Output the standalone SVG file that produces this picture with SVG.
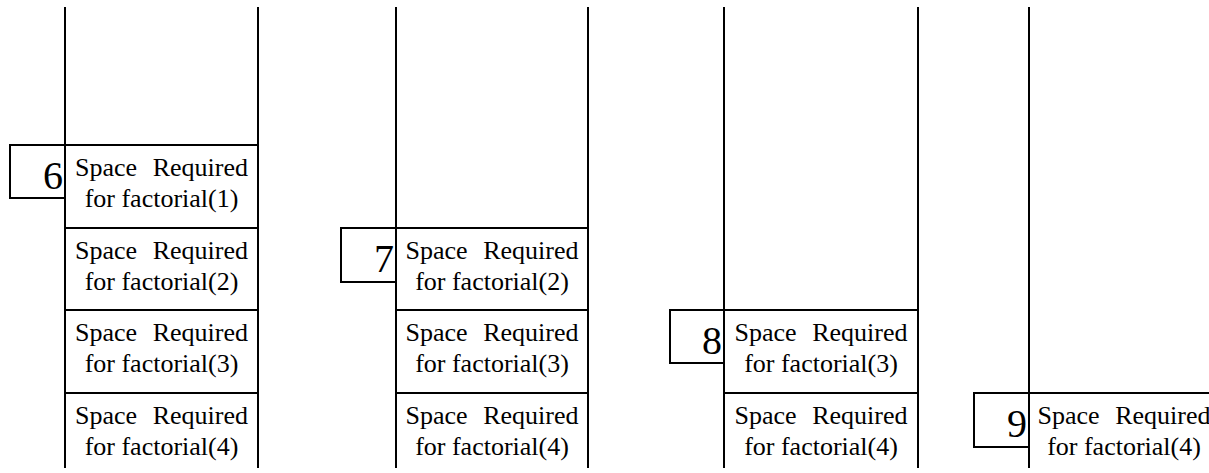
<svg xmlns="http://www.w3.org/2000/svg" width="1209" height="473" viewBox="0 0 1209 473">
<style>
.ln{stroke:#000;stroke-width:2;fill:none}
.bx{stroke:#000;stroke-width:2;fill:#fff}
.t{font-family:"Liberation Serif","Times New Roman",serif;font-size:26px;fill:#000;text-anchor:middle}
.t1{word-spacing:9px}
.n{font-family:"Liberation Serif","Times New Roman",serif;font-size:40px;fill:#000;text-anchor:end}
</style>
<rect width="1209" height="473" fill="#fff"/>
<g id="stack1">
<line class="ln" x1="65" y1="7" x2="65" y2="468"/>
<line class="ln" x1="258" y1="7" x2="258" y2="468"/>
<line class="ln" x1="65" y1="145" x2="258" y2="145"/>
<line class="ln" x1="65" y1="228" x2="258" y2="228"/>
<line class="ln" x1="65" y1="310" x2="258" y2="310"/>
<line class="ln" x1="65" y1="393" x2="258" y2="393"/>
<rect class="bx" x="10" y="145" width="55" height="53"/>
<text class="n" x="63" y="189">6</text>
<text class="t t1" x="161.5" y="176">Space Required</text>
<text class="t" x="161.5" y="207">for factorial(1)</text>
<text class="t t1" x="161.5" y="259">Space Required</text>
<text class="t" x="161.5" y="290">for factorial(2)</text>
<text class="t t1" x="161.5" y="341">Space Required</text>
<text class="t" x="161.5" y="372">for factorial(3)</text>
<text class="t t1" x="161.5" y="424">Space Required</text>
<text class="t" x="161.5" y="455">for factorial(4)</text>
</g>
<g id="stack2">
<line class="ln" x1="396" y1="7" x2="396" y2="468"/>
<line class="ln" x1="588" y1="7" x2="588" y2="468"/>
<line class="ln" x1="396" y1="228" x2="588" y2="228"/>
<line class="ln" x1="396" y1="310" x2="588" y2="310"/>
<line class="ln" x1="396" y1="393" x2="588" y2="393"/>
<rect class="bx" x="341" y="228" width="55" height="54"/>
<text class="n" x="394" y="272">7</text>
<text class="t t1" x="492" y="259">Space Required</text>
<text class="t" x="492" y="290">for factorial(2)</text>
<text class="t t1" x="492" y="341">Space Required</text>
<text class="t" x="492" y="372">for factorial(3)</text>
<text class="t t1" x="492" y="424">Space Required</text>
<text class="t" x="492" y="455">for factorial(4)</text>
</g>
<g id="stack3">
<line class="ln" x1="724" y1="7" x2="724" y2="468"/>
<line class="ln" x1="918" y1="7" x2="918" y2="468"/>
<line class="ln" x1="724" y1="310" x2="918" y2="310"/>
<line class="ln" x1="724" y1="393" x2="918" y2="393"/>
<rect class="bx" x="670" y="310" width="54" height="53"/>
<text class="n" x="722" y="354">8</text>
<text class="t t1" x="821" y="341">Space Required</text>
<text class="t" x="821" y="372">for factorial(3)</text>
<text class="t t1" x="821" y="424">Space Required</text>
<text class="t" x="821" y="455">for factorial(4)</text>
</g>
<g id="stack4">
<line class="ln" x1="1029" y1="7" x2="1029" y2="468"/>
<line class="ln" x1="1029" y1="393" x2="1222" y2="393"/>
<rect class="bx" x="974" y="393" width="55" height="54"/>
<text class="n" x="1027" y="437">9</text>
<text class="t t1" x="1124" y="424">Space Required</text>
<text class="t" x="1124" y="455">for factorial(4)</text>
</g>
<g id="connectors"/>
</svg>
